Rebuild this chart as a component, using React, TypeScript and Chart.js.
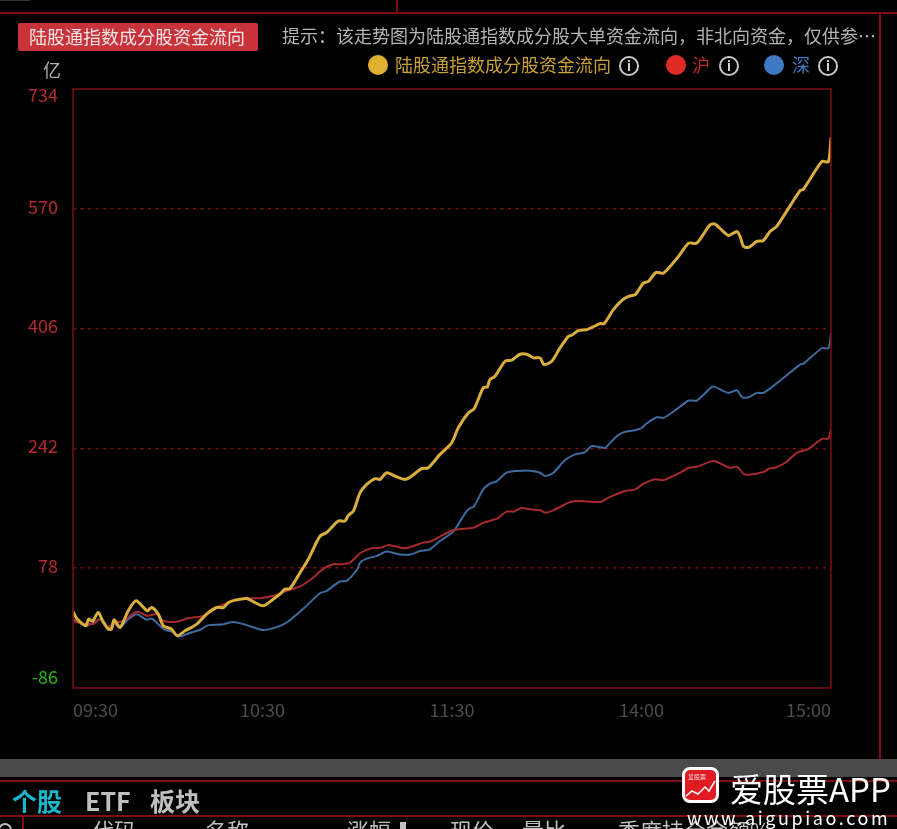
import React, { useEffect, useRef } from "react";
import { Chart, registerables } from "chart.js";

Chart.register(...registerables);

const FONT = '"Noto Sans CJK SC", "Noto Sans", sans-serif';

const timeLabels: Record<number, string> = { 0: "09:30", 60: "10:30", 120: "11:30", 180: "14:00", 240: "15:00" };

const yellowT = [0,1.2,4.1,4.9,6.2,8,9.4,11.2,12.2,13,14.9,17.5,20,23.5,24.9,27,28.6,31.2,33,35.5,39.2,42.3,45.5,47.6,49.2,51.3,55,57.6,60.3,63.4,65.5,67.1,68.7,71.9,74.5,78.2,80.3,84,86.1,87.2,88.8,90.9,93,95.6,97.2,99.3,102,105.1,107.2,110.4,112.5,116.2,119.9,122,125.2,127,129.9,131.2,132,133.6,136.8,138.9,141.5,143.7,145.8,147.9,149.1,151.6,154.2,156.9,157.9,160,162.7,166.9,168.2,171.1,173.8,175.9,178,180.6,182.2,184.6,187,191.7,194.9,197.5,201.7,203.3,207.5,210.2,211.2,212.3,213.9,216.5,218.6,220.7,222.8,230.2,231.3,237.1,239.2,240];
const yellowV = [18.3,9.2,-0.8,8.3,5.5,17.4,6,-5.4,-5.4,7.4,-3.1,19.7,33.3,19.7,24.2,15.1,-0.8,-5.4,-14.5,-7.7,1.4,15.1,24.2,24.2,31,34.3,36.5,31,26.5,35.6,42.4,49.3,50.2,72,90.3,122,126.7,142.7,142.6,150.4,156.3,181.4,192.7,200.5,199.6,208.7,204.1,199.6,204.1,214.2,215.5,233.8,249.7,270.2,290.7,296.2,324.9,326.2,336.3,340.8,361.3,362.7,370.9,370.9,365.9,365.9,356.8,361.3,379.5,395.5,396.9,403.2,404.6,412.8,412.8,431.9,444.7,450.1,452.4,468.2,470.6,483,482,504.8,523,523,548.1,549,533.5,539,532.1,518.5,517.1,525.3,526.7,539,545.8,595,596.8,634.6,634.6,666.5];

const redT = [0,2.2,6.4,8.6,10.7,13.3,16,20.2,23.5,26.5,28.6,32.8,36,41.3,45.5,50.8,55,59.2,63.4,67.7,71.9,76.1,79.3,82.4,84.55,87.7,90.9,94.05,97.7,99.9,105.1,110.9,113,120.4,126.8,130,134.2,137.3,139.4,142.1,144.7,147.9,149.5,152.1,157.4,160.6,166.9,169.5,174.8,178,180.6,184.3,187,192.2,194.9,197.5,202.3,203.8,208,210.2,212.3,213.9,218.6,220.2,222.3,225.5,229.2,232.9,237.1,239.2,240];
const redV = [5.9,2.8,1.5,8.3,-3,3,6,18.3,12.8,15.1,6,4.6,9.2,12.8,24.2,33.3,36.5,37,40.2,47,53,65.2,77.5,83.5,83.4,85.7,98.4,104.8,106.2,109.8,105.3,113,114.4,129.9,133.5,140.4,145.8,155.4,155.4,160.4,158.6,157.2,154,157.2,168.6,170,168.6,174.5,183.6,185.9,193.6,199.6,198.6,208.7,215.5,216.9,224.6,223.7,215.5,216.9,207.3,205.9,209.6,214.1,215.5,222.3,236,241.5,255.1,255.6,268.8];

const blueT = [0,2.2,4.1,6.4,8.5,11.2,12.8,14.9,17.5,20.2,23.3,24.9,27,29.1,31.2,33.4,36.5,40.2,42.9,47.1,50.8,55,60.3,64.5,67.7,73,78.2,80.3,84.5,86.7,90,90.9,93,96.2,99.3,103,106.7,109.9,113,116.2,120.4,123.6,125.2,127,129.9,132,134.2,137.3,140.5,144.7,147.9,149.5,152.1,155.8,159,162.1,164.2,166.9,168.5,172.2,174.8,177.5,180.1,181.2,184.8,187,191.7,194.9,197.5,202.3,203.3,207.5,210.2,211.8,213.9,216.5,218.6,222.3,230.2,231.3,237.1,239.2,240];
const blueV = [8.3,2.8,-0.8,2.8,8,-5,3,-3.1,8.3,15.1,7.4,9.2,1.4,-6.3,-8.6,-15.8,-11.3,-6.3,0.1,1,4.2,0.1,-6.7,-2.7,3.7,22.9,43.8,47,59.8,60.7,76.6,85.7,91.1,94.8,100.7,97.1,96.6,101.6,103.9,115.3,128,149.5,158.6,163.1,185.9,193.7,197.3,208.7,211,211.4,208.7,204.1,208.7,226,233.8,236.9,245.1,243.7,242.8,258.8,264.7,266.5,270.2,274.7,284.7,283.8,297.5,307.5,307.5,326.2,326.2,318,321.6,312.1,312.1,318,318,329.4,356.7,358.1,379.1,379.1,399.1];

const pairs = (t: number[], v: number[]) => t.map((x, i) => ({ x, y: v[i] }));

const FRAME = "#7d0d12";

const tweakLabels = {
  id: "tweakLabels",
  beforeDraw(chart: any) {
    const items = chart.scales.y.getLabelItems();
    if (items.__done) return;
    items.__done = true;
    items.forEach((it: any) => {
      const v = Number(it.label);
      const dy = v === 734 ? 6 : v === -86 ? -11 : -2;
      it.options.translation = [it.options.translation[0], it.options.translation[1] + dy];
    });
  },
};

const frame = {
  id: "frame",
  afterDatasetsDraw(chart: any) {
    const { left, top, width, height } = chart.chartArea;
    const c = chart.ctx;
    c.save();
    c.strokeStyle = FRAME;
    c.lineWidth = 1.5;
    c.strokeRect(left, top, width, height);
    c.restore();
  },
};

const box = (
  left: number,
  top: number,
  width: number,
  height: number,
  background: string,
  extra: React.CSSProperties = {},
): React.CSSProperties => ({ position: "absolute", left, top, width, height, background, ...extra });

const text = (left: number, top: number, color: string, size = 18, extra: React.CSSProperties = {}): React.CSSProperties => ({
  position: "absolute",
  left,
  top,
  color,
  fontSize: size,
  lineHeight: "26px",
  whiteSpace: "nowrap",
  fontFamily: FONT,
  ...extra,
});

const Info = ({ x }: { x: number }) => (
  <div
    style={{
      position: "absolute",
      left: x - 10,
      top: 56,
      width: 16,
      height: 16,
      border: "2px solid #c8c8c8",
      borderRadius: "50%",
      color: "#d8d8d8",
      fontSize: 13,
      lineHeight: "16px",
      textAlign: "center",
      fontFamily: FONT,
      fontWeight: 700,
    }}
  >
    i
  </div>
);

const Dot = ({ x, color }: { x: number; color: string }) => (
  <div style={{ position: "absolute", left: x - 10, top: 55, width: 20, height: 20, borderRadius: "50%", background: color }} />
);

export default function App() {
  const ref = useRef<HTMLCanvasElement>(null);

  useEffect(() => {
    document.body.style.margin = "0";
    const chart = new Chart(ref.current!, {
      type: "line",
      data: {
        datasets: [
          { label: "陆股通指数成分股资金流向", data: pairs(yellowT, yellowV), borderColor: "#d9ae3c", borderWidth: 3 },
          { label: "沪", data: pairs(redT, redV), borderColor: "#a62a2e", borderWidth: 2 },
          { label: "深", data: pairs(blueT, blueV), borderColor: "#3d6a9f", borderWidth: 2 },
        ],
      },
      plugins: [tweakLabels, frame],
      options: {
        animation: false,
        responsive: false,
        devicePixelRatio: 1,
        layout: { padding: { left: 0, top: 89, right: 66, bottom: 0 } },
        elements: { point: { radius: 0 }, line: { tension: 0.25, borderJoinStyle: "round", borderCapStyle: "round" } },
        plugins: { legend: { display: false }, tooltip: { enabled: false } },
        scales: {
          x: {
            type: "linear",
            min: 0,
            max: 240,
            afterBuildTicks: (s: any) => {
              s.ticks = Object.keys(timeLabels).map((k) => ({ value: Number(k) }));
            },
            afterFit: (s: any) => {
              s.height = 141;
            },
            grid: { display: false },
            border: { display: false },
            ticks: {
              autoSkip: false,
              maxRotation: 0,
              align: "inner",
              padding: 3,
              color: "#4c4c4c",
              font: { family: FONT, size: 18 },
              callback: (v: any) => timeLabels[Number(v)] ?? "",
            },
          },
          y: {
            min: -86,
            max: 734,
            afterFit: (s: any) => {
              s.width = 73;
            },
            grid: {
              drawTicks: false,
              color: (c: any) => (c.tick.value === 734 || c.tick.value === -86 ? "transparent" : "#7d0d12"),
              lineWidth: 1.5,
            },
            border: { display: false, dash: [3, 4.5] },
            ticks: {
              stepSize: 164,
              padding: 15,
              font: { family: FONT, size: 18 },
              color: (c: any) => (c.tick.value === -86 ? "#26b50c" : "#b52a2e"),
            },
          },
        },
      },
    } as any);
    return () => chart.destroy();
  }, []);

  return (
    <div style={{ position: "fixed", left: 0, top: 0, width: 897, height: 829, background: "#000", overflow: "hidden" }}>
      <canvas ref={ref} width={897} height={829} style={{ position: "absolute", left: 0, top: 0, display: "block" }} />

      <div style={box(0, 0, 30, 1, "#333333")} />
      <div style={box(0, 12, 897, 1.5, FRAME)} />
      <div style={box(396, 0, 1.5, 12, FRAME)} />
      <div style={box(879, 12, 1.5, 747, FRAME)} />
      <div style={box(0, 759, 897, 18, "#4a4a4a")} />
      <div style={box(0, 780, 897, 1.5, FRAME)} />
      <div style={box(0, 815, 897, 1.5, FRAME)} />
      <div style={box(22, 815, 1.5, 14, FRAME)} />

      <div style={box(18, 23, 240, 28, "#c8323a", { borderRadius: 2 })} />
      <div style={text(29, 23, "#f2e4e4")}>陆股通指数成分股资金流向</div>
      <div style={text(282, 22, "#b4b4b4")}>提示：该走势图为陆股通指数成分股大单资金流向，非北向资金，仅供参…</div>
      <div style={text(43, 56, "#a8b0b8")}>亿</div>

      <Dot x={378} color="#e0b030" />
      <div style={text(395, 51, "#c9a032")}>陆股通指数成分股资金流向</div>
      <Info x={629} />
      <Dot x={676} color="#e02b25" />
      <div style={text(692, 51, "#b8282a")}>沪</div>
      <Info x={729} />
      <Dot x={774} color="#3f78c4" />
      <div style={text(792, 51, "#3f78c4")}>深</div>
      <Info x={828} />

      <div style={text(12, 787, "#18b8cc", 25, { fontWeight: 700 })}>个股</div>
      <div style={text(85, 787, "#c0c0c0", 25, { fontWeight: 700 })}>ETF</div>
      <div style={text(150, 787, "#c0c0c0", 25, { fontWeight: 700 })}>板块</div>

      <div style={{ position: "absolute", left: -2, top: 823, width: 10, height: 10, border: "2px solid #c0c0c0", borderRadius: "50%" }} />
      <div style={text(92, 816, "#c0c0c0", 22)}>代码</div>
      <div style={text(205, 816, "#c0c0c0", 22)}>名称</div>
      <div style={text(347, 816, "#c0c0c0", 22)}>涨幅</div>
      <div style={box(400, 822, 6, 7, "#c0c0c0")} />
      <div style={text(450, 816, "#c0c0c0", 22)}>现价</div>
      <div style={text(522, 816, "#c0c0c0", 22)}>量比</div>
      <div style={text(618, 816, "#c0c0c0", 22)}>季度持仓金额%</div>

      <div style={box(682, 767, 31, 30, "#e01b22", { border: "3px solid #fff", borderRadius: 8 })} />
      <svg width="37" height="36" style={{ position: "absolute", left: 682, top: 767 }}>
        <polyline points="4,29 10,24 16,27 23,20 27,24 33,14" fill="none" stroke="#fff" strokeWidth="1.5" />
        <text x="6" y="12" fill="#ffd9d9" fontSize="6" fontFamily={FONT}>爱股票</text>
      </svg>
      <div style={text(730, 775, "#ffffff", 33)}>爱股票APP</div>
      <div style={text(687, 804, "#ffffff", 18, { letterSpacing: 2.6 })}>www.aigupiao.com</div>
    </div>
  );
}
